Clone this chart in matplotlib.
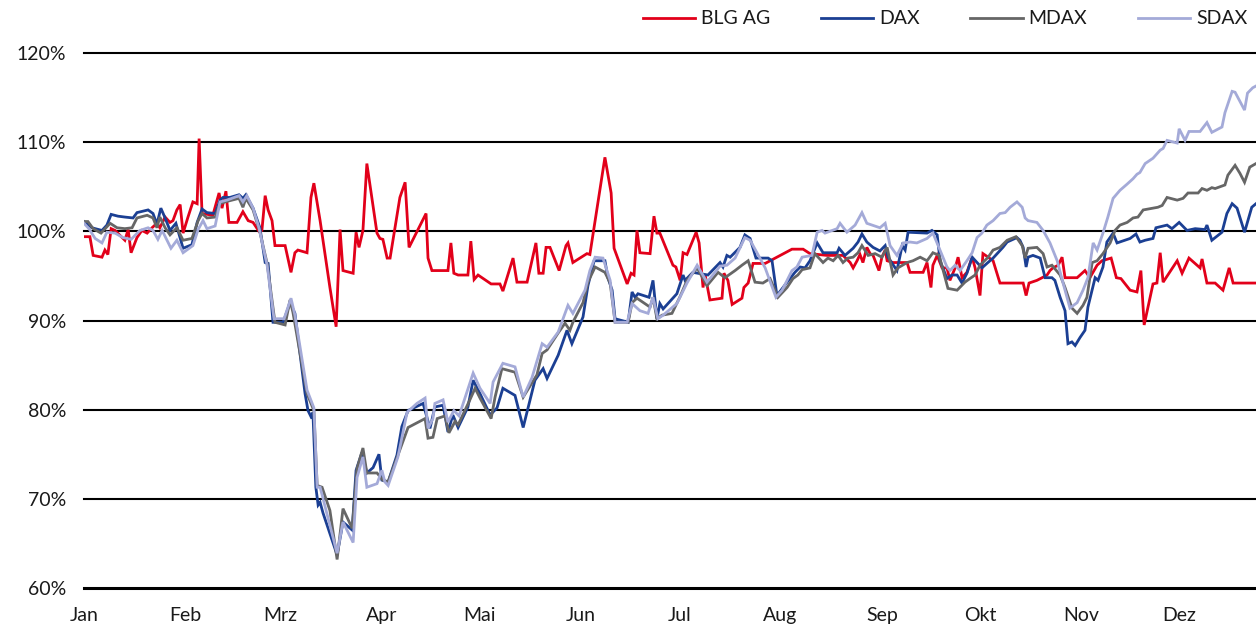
import matplotlib
matplotlib.use("Agg")
import matplotlib.pyplot as plt

# ---- data: (day of year, index value in %) ----
BLG = [(0, 99.4), (1.8, 99.4), (2.8, 97.3), (5.5, 97.1), (6.4, 97.9), (7.3, 97.4), (8.3, 100.3), (9.5, 100.1),
       (12.5, 99.0), (13.5, 100.2), (14.4, 97.6), (16.2, 99.3), (17.7, 100.1), (19.3, 99.8), (20.8, 100.4),
       (22.3, 100.9), (23.2, 100.4), (24.8, 101.6), (26.3, 101.0), (27.2, 101.2), (28.4, 102.4), (29.4, 103.0),
       (30.3, 99.8), (31.8, 101.6), (33.3, 103.3), (34.6, 103.1), (35.2, 110.4), (36.1, 102.0), (39.4, 101.8),
       (41.3, 104.3), (42.2, 102.6), (43.4, 104.5), (44.3, 101.0), (46.8, 101.0), (48.6, 102.2), (50.2, 101.2),
       (51.7, 101.0), (53.5, 100.0), (54.4, 100.1), (55.4, 104.0), (56.3, 102.4), (57.5, 101.2), (58.4, 98.4),
       (61.5, 98.4), (63.3, 95.4), (64.5, 97.6), (65.4, 97.9), (68.2, 97.6), (69.4, 103.8), (70.3, 105.4),
       (72.2, 101.2), (75.2, 93.7), (77.1, 89.3), (78.3, 100.2), (79.2, 95.6), (82.3, 95.3), (83.2, 99.9),
       (84.1, 98.2), (85.3, 100.1), (86.5, 107.6), (89.6, 99.8), (90.5, 99.2), (91.4, 99.1), (92.7, 97.0),
       (93.6, 97.0), (96.6, 103.8), (98.2, 105.5), (99.4, 98.2), (104.6, 102.0), (105.2, 97.0), (106.4, 95.6),
       (111.3, 95.6), (112.2, 98.7), (113.1, 95.3), (114.4, 95.1), (117.4, 95.1), (118.3, 98.9), (119.3, 94.6),
       (120.5, 95.1), (124.5, 94.1), (127.2, 94.1), (128.1, 93.3), (131.2, 97.0), (132.4, 94.3), (135.5, 94.3),
       (138.2, 98.7), (139.1, 95.3), (140.4, 95.3), (141.3, 98.2), (142.5, 98.2), (145.3, 95.6), (147.4, 98.4),
       (148.0, 98.7), (149.5, 96.5), (153.8, 97.5), (154.7, 97.4), (159.3, 108.3), (161.2, 104.3), (162.1, 98.1),
       (166.1, 94.1), (167.3, 95.3), (168.2, 95.1), (169.1, 100.1), (170.0, 97.6), (173.1, 97.5), (174.3, 101.7),
       (175.2, 99.8), (176.1, 99.8), (180.1, 96.2), (181.0, 96.0), (182.3, 94.5), (183.2, 97.6), (184.4, 97.4),
       (187.2, 99.9), (188.1, 98.7), (189.3, 93.7), (189.9, 95.2), (191.4, 92.3), (195.1, 92.5), (195.7, 95.3),
       (196.9, 94.5), (198.2, 91.8), (201.2, 92.5), (201.8, 93.7), (203.1, 94.2), (204.6, 96.4), (208.3, 96.4),
       (211.9, 97.1), (216.5, 98.0), (219.9, 98.0), (222.0, 97.5), (227.2, 97.3), (232.1, 97.3), (234.3, 96.5),
       (235.2, 95.9), (236.4, 96.7), (237.3, 97.4), (238.2, 96.5), (239.4, 98.2), (240.4, 97.5), (241.3, 97.3),
       (243.1, 95.6), (244.0, 97.1), (245.0, 97.9), (245.6, 96.7), (247.4, 96.5), (251.7, 96.5), (252.6, 95.4),
       (256.6, 95.4), (257.8, 96.5), (259.0, 93.7), (259.6, 96.2), (260.9, 97.3), (262.4, 95.9), (263.9, 95.9),
       (264.8, 94.5), (266.4, 95.9), (267.3, 97.1), (268.5, 94.8), (270.0, 95.4), (271.6, 97.1), (272.5, 95.9),
       (274.0, 92.8), (274.9, 97.5), (276.5, 97.1), (278.0, 96.7), (280.1, 94.2), (287.2, 94.2), (288.1, 92.8),
       (289.0, 94.2), (291.4, 94.5), (293.0, 94.8), (294.5, 95.1), (295.4, 95.6), (296.3, 95.9), (297.9, 96.2),
       (299.1, 97.1), (300.0, 94.8), (303.7, 94.8), (306.1, 95.6), (307.6, 94.8), (309.8, 96.2), (311.3, 96.7),
       (314.1, 97.0), (315.7, 94.8), (317.1, 94.7), (319.9, 93.4), (322.0, 93.2), (323.2, 95.6), (324.2, 89.5),
       (326.9, 94.1), (328.1, 94.2), (329.1, 97.6), (330.0, 94.3), (334.3, 96.7), (335.8, 95.3), (337.9, 97.0),
       (341.3, 95.9), (341.9, 96.9), (343.4, 94.2), (345.9, 94.2), (348.3, 93.4), (350.2, 95.9), (351.4, 94.2),
       (358.4, 94.2)]

DAX = [(0, 101.1), (2.4, 100.4), (5.5, 100.1), (7.0, 100.7), (8.3, 101.9), (10.4, 101.7), (12.5, 101.6),
       (15.0, 101.5), (16.2, 102.1), (19.6, 102.4), (21.1, 102.0), (22.3, 100.8), (23.5, 102.6), (24.8, 101.5),
       (26.3, 100.1), (28.1, 100.9), (30.3, 98.1), (33.0, 98.5), (34.6, 101.0), (36.1, 102.5), (37.6, 102.1),
       (40.1, 102.0), (41.6, 103.5), (42.5, 103.8), (44.6, 103.8), (47.4, 104.1), (48.6, 103.7), (49.5, 104.1),
       (51.7, 102.6), (53.8, 100.4), (55.4, 96.5), (56.3, 96.4), (57.8, 89.8), (60.9, 89.8), (63.0, 92.0),
       (64.5, 90.8), (67.6, 81.8), (68.5, 79.9), (69.7, 79.0), (70.0, 79.7), (70.9, 71.3), (71.6, 69.3),
       (72.2, 69.6), (73.1, 68.4), (75.2, 66.1), (77.4, 63.7), (79.2, 67.4), (82.0, 66.5), (83.2, 73.2),
       (85.0, 75.2), (86.5, 72.9), (88.4, 73.5), (90.2, 75.0), (91.1, 72.1), (93.0, 71.9), (95.7, 74.9),
       (97.2, 78.1), (99.1, 79.9), (103.7, 80.7), (105.8, 77.9), (107.3, 80.3), (109.8, 80.5), (111.3, 77.5),
       (112.8, 79.4), (114.4, 78.0), (117.4, 80.3), (119.0, 83.3), (121.1, 81.8), (124.2, 79.4), (126.3, 80.2),
       (128.1, 82.4), (131.8, 81.6), (134.3, 78.0), (137.9, 83.3), (140.4, 84.6), (141.6, 83.5), (145.0, 86.1),
       (147.7, 88.9), (149.2, 87.4), (152.6, 90.4), (154.1, 93.9), (156.0, 96.7), (159.3, 96.7), (160.2, 94.8),
       (161.5, 93.4), (162.4, 90.2), (166.4, 89.8), (167.6, 93.2), (168.5, 92.6), (169.4, 93.0), (172.8, 92.6),
       (174.0, 94.5), (175.2, 90.2), (176.1, 91.9), (177.1, 91.3), (181.3, 93.0), (183.2, 95.1), (183.8, 94.5),
       (186.2, 95.4), (190.8, 95.1), (194.5, 96.5), (195.4, 96.0), (196.6, 97.3), (197.6, 97.1), (200.6, 98.2),
       (202.1, 99.6), (203.7, 99.2), (205.5, 97.0), (209.2, 97.0), (210.4, 96.7), (211.9, 92.8), (215.0, 94.3),
       (217.4, 95.4), (219.0, 96.0), (220.5, 95.9), (222.0, 96.7), (224.2, 98.7), (226.0, 97.6), (230.3, 97.6),
       (230.9, 98.1), (232.7, 97.3), (235.2, 98.1), (236.7, 98.8), (237.9, 99.7), (239.4, 98.8), (241.3, 98.2),
       (243.4, 97.8), (245.0, 98.4), (245.9, 97.1), (248.6, 95.6), (250.2, 98.4), (251.1, 97.9), (252.0, 99.9),
       (257.8, 99.8), (259.3, 100.1), (260.9, 99.6), (261.8, 96.7), (263.9, 94.7), (265.4, 95.1), (267.0, 95.1),
       (268.5, 94.2), (270.0, 95.3), (271.6, 97.1), (273.1, 96.5), (274.6, 95.9), (276.1, 96.4), (278.0, 97.0),
       (279.5, 97.6), (281.0, 98.2), (282.3, 98.8), (284.1, 99.1), (285.3, 99.3), (286.2, 99.0), (287.2, 98.2),
       (288.1, 96.0), (288.7, 97.1), (290.2, 97.3), (292.4, 97.0), (293.9, 94.8), (296.0, 94.8), (296.9, 94.5),
       (298.5, 92.6), (300.0, 91.1), (300.9, 87.4), (302.1, 87.6), (303.1, 87.2), (304.6, 88.1), (306.1, 88.9),
       (307.0, 91.5), (309.2, 94.8), (310.1, 94.5), (311.6, 96.0), (312.8, 98.8), (314.7, 99.8), (315.9, 98.7),
       (319.9, 99.2), (321.7, 99.7), (322.9, 98.8), (324.5, 99.0), (326.9, 99.2), (327.8, 100.4), (331.2, 100.7),
       (332.7, 100.3), (334.9, 101.0), (337.3, 100.1), (339.8, 100.3), (342.8, 100.2), (343.4, 100.7),
       (344.9, 99.0), (348.0, 99.9), (349.5, 102.0), (351.1, 103.1), (352.6, 102.6), (354.9, 99.9),
       (357.1, 102.7), (358.4, 103.1)]

MDAX = [(0, 101.1), (1.2, 101.1), (2.8, 100.3), (5.2, 99.8), (8.0, 100.9), (10.1, 100.4), (12.5, 100.3),
        (14.7, 100.4), (16.2, 101.5), (19.3, 101.8), (21.1, 101.5), (22.3, 100.4), (23.2, 101.6), (24.8, 100.4),
        (26.3, 99.6), (28.4, 100.4), (30.3, 99.0), (33.0, 99.2), (34.9, 101.2), (36.1, 102.0), (37.6, 101.5),
        (40.1, 101.6), (41.6, 103.1), (43.1, 103.3), (47.4, 103.7), (48.6, 102.7), (49.5, 103.7), (51.7, 102.4),
        (53.8, 99.9), (56.0, 96.4), (58.4, 89.8), (61.5, 89.5), (63.0, 92.3), (63.9, 90.9), (68.2, 81.8),
        (70.3, 79.9), (71.3, 71.5), (72.8, 71.3), (75.2, 68.7), (77.4, 63.2), (79.2, 68.9), (82.0, 66.7),
        (83.5, 73.4), (85.3, 75.7), (86.5, 72.9), (89.6, 72.9), (91.4, 72.1), (93.0, 71.9), (96.0, 74.9),
        (98.2, 77.1), (99.1, 78.0), (104.3, 79.0), (105.2, 76.8), (106.7, 76.9), (108.0, 79.0), (110.4, 79.3),
        (111.6, 77.4), (113.5, 78.7), (114.4, 78.3), (118.0, 81.1), (119.6, 82.4), (121.1, 81.3), (124.5, 79.0),
        (125.7, 81.4), (127.8, 84.6), (131.8, 84.2), (134.3, 81.4), (138.5, 83.9), (140.1, 86.3), (141.6, 86.7),
        (145.0, 88.6), (147.1, 89.7), (148.6, 88.9), (149.5, 89.8), (152.6, 92.0), (154.1, 94.3), (156.3, 96.0),
        (159.3, 95.4), (160.9, 94.2), (162.4, 89.8), (166.4, 89.8), (167.6, 92.0), (169.1, 92.5), (173.1, 91.5),
        (174.0, 92.6), (175.2, 90.2), (176.8, 90.6), (179.8, 90.8), (182.3, 92.7), (184.4, 94.5), (187.5, 95.9),
        (190.5, 93.9), (193.9, 95.4), (196.0, 94.8), (199.1, 95.6), (201.2, 96.2), (203.1, 96.7), (205.2, 94.3),
        (207.6, 94.2), (209.8, 94.7), (212.2, 92.6), (215.0, 93.7), (216.8, 94.7), (218.3, 95.1), (219.6, 95.7),
        (222.0, 95.9), (223.5, 97.5), (226.0, 96.5), (227.5, 97.0), (229.1, 96.7), (230.6, 97.3), (232.1, 96.5),
        (233.6, 97.0), (235.2, 97.1), (236.7, 97.6), (237.9, 98.4), (239.8, 97.3), (241.9, 97.5), (244.0, 97.1),
        (245.6, 98.2), (247.4, 95.1), (248.9, 95.9), (251.7, 96.5), (253.5, 96.7), (255.7, 97.1), (257.8, 96.7),
        (259.6, 97.6), (261.5, 97.3), (264.2, 93.6), (267.0, 93.4), (269.4, 94.3), (270.9, 94.7), (272.5, 95.1),
        (274.0, 96.2), (276.5, 97.1), (278.0, 97.9), (280.1, 98.2), (282.3, 99.0), (285.0, 99.4), (286.9, 98.4),
        (287.8, 97.0), (288.7, 98.1), (291.4, 98.2), (293.3, 97.5), (294.5, 96.0), (296.0, 96.2), (298.5, 95.1),
        (300.0, 93.7), (302.1, 91.4), (303.7, 90.8), (305.5, 91.7), (306.7, 92.6), (308.3, 96.5), (309.8, 96.7),
        (311.6, 97.5), (313.8, 98.7), (315.3, 100.1), (316.8, 100.7), (319.0, 101.0), (320.8, 101.5),
        (322.3, 101.6), (323.9, 102.4), (326.9, 102.6), (328.4, 102.7), (329.7, 102.9), (331.2, 103.8),
        (334.3, 103.5), (336.1, 103.7), (337.6, 104.3), (340.7, 104.3), (341.9, 104.8), (343.4, 104.6),
        (344.9, 104.9), (345.9, 104.8), (348.9, 105.2), (349.8, 106.3), (352.0, 107.4), (353.5, 106.5),
        (354.9, 105.5), (356.5, 107.2), (358.4, 107.6)]

SDAX = [(0, 100.9), (1.5, 100.3), (3.4, 99.2), (5.5, 98.7), (7.0, 99.9), (9.5, 99.8), (11.9, 99.3), (14.4, 99.1),
        (17.1, 100.1), (19.6, 100.4), (21.1, 100.1), (22.6, 99.1), (23.9, 100.1), (26.6, 98.1), (28.4, 99.0),
        (30.3, 97.6), (33.3, 98.4), (34.9, 100.2), (36.4, 101.2), (37.6, 100.3), (40.1, 100.6), (41.6, 103.3),
        (43.7, 103.5), (47.4, 104.0), (48.6, 103.3), (49.8, 104.0), (51.7, 102.6), (53.5, 100.4), (56.0, 96.2),
        (58.1, 90.2), (61.2, 90.2), (63.3, 92.5), (64.5, 90.6), (68.2, 82.2), (70.3, 80.2), (71.3, 71.3),
        (72.2, 71.3), (74.6, 67.9), (77.4, 63.9), (79.2, 67.4), (82.3, 65.1), (83.5, 72.4), (85.3, 74.7),
        (86.5, 71.3), (89.6, 71.7), (91.1, 73.2), (92.0, 71.9), (93.0, 71.5), (96.0, 74.7), (98.8, 79.7),
        (101.8, 80.7), (104.3, 81.3), (105.2, 77.9), (106.7, 79.0), (107.3, 80.7), (109.8, 81.1), (111.3, 78.6),
        (113.1, 79.9), (114.7, 79.3), (119.0, 84.1), (121.1, 82.4), (124.2, 80.7), (125.1, 83.1), (128.1, 85.2),
        (131.8, 84.8), (134.3, 81.4), (137.0, 83.6), (140.1, 87.4), (141.6, 87.0), (145.0, 88.7), (148.0, 91.7),
        (149.5, 90.8), (153.2, 93.4), (154.7, 95.6), (156.3, 97.1), (158.7, 97.0), (160.9, 94.5), (162.4, 89.8),
        (166.1, 89.8), (167.6, 91.9), (170.0, 91.1), (172.5, 90.8), (174.0, 92.6), (175.5, 90.2), (177.1, 90.6),
        (181.3, 91.9), (184.4, 94.2), (187.5, 96.2), (190.5, 94.3), (194.5, 96.1), (196.6, 96.2), (199.1, 97.0),
        (202.1, 99.3), (203.7, 99.0), (205.8, 97.6), (208.3, 95.9), (211.6, 92.6), (213.5, 93.4), (215.0, 94.5),
        (216.5, 95.6), (218.0, 96.0), (219.6, 97.1), (222.6, 97.3), (224.2, 99.9), (225.7, 100.1), (226.6, 99.8),
        (230.3, 100.3), (231.2, 100.9), (233.3, 99.9), (235.8, 100.7), (237.9, 102.1), (239.4, 100.9),
        (243.4, 100.4), (245.0, 100.9), (246.5, 98.4), (248.6, 97.3), (250.5, 98.7), (252.6, 98.8), (254.7, 98.7),
        (257.8, 99.2), (259.6, 99.8), (261.2, 98.4), (263.9, 96.0), (264.8, 95.6), (266.4, 96.2), (267.9, 95.6),
        (270.0, 96.7), (271.6, 97.6), (273.1, 99.3), (274.6, 99.8), (276.1, 100.7), (278.0, 101.2),
        (280.1, 102.0), (281.7, 102.1), (283.2, 102.7), (285.3, 103.3), (286.9, 102.7), (287.8, 101.5),
        (288.7, 101.2), (291.4, 101.0), (293.3, 100.1), (295.4, 98.7), (297.6, 96.7), (299.4, 94.2),
        (300.6, 92.6), (301.5, 91.4), (303.7, 92.0), (305.5, 93.4), (307.0, 94.8), (308.6, 98.7), (309.8, 97.9),
        (311.6, 99.8), (313.1, 101.6), (314.7, 103.7), (316.8, 104.6), (319.0, 105.3), (320.8, 105.9),
        (322.0, 106.4), (322.9, 106.6), (324.5, 107.6), (326.9, 108.2), (329.1, 109.1), (330.0, 109.3),
        (331.2, 110.2), (334.3, 109.9), (334.9, 111.5), (336.7, 110.2), (337.9, 111.2), (341.3, 111.2),
        (343.4, 112.2), (344.9, 111.1), (348.0, 111.7), (348.9, 113.3), (351.1, 115.7), (352.0, 115.6),
        (354.9, 113.6), (355.8, 115.5), (357.4, 116.1), (358.4, 116.3)]

SERIES = ["BLG AG", "DAX", "MDAX", "SDAX"]
COLORS = ["#E2001A", "#1B3F93", "#666666", "#A4AAD8"]
MONTHS = ["Jan", "Feb", "Mrz", "Apr", "Mai", "Jun", "Jul", "Aug", "Sep", "Okt", "Nov", "Dez"]
MONTH_START = [0, 31, 60, 91, 121, 152, 182, 213, 244, 274, 305, 335]
Y_TICKS = [60, 70, 80, 90, 100, 110, 120]

plt.rcParams['font.family'] = ['Lato', 'DejaVu Sans']

fig = plt.figure(figsize=(12.56, 6.26), dpi=100)
ax = fig.add_axes([84 / 1256, 1 - 588 / 626, 1 - 84 / 1256, (588 - 53) / 626])

for v in Y_TICKS:
    ax.axhline(v, color="black", lw=2.2 if v == 60 else 1.5, zorder=1, clip_on=False)

for name, data, col in zip(SERIES, [BLG, DAX, MDAX, SDAX], COLORS):
    xs, ys = zip(*data)
    ax.plot(xs, ys, color=col, lw=2.0, label=name, zorder=3, solid_joinstyle="miter")

ax.set_xlim(0, 358.4)
ax.set_ylim(60, 120)
ax.set_xticks(MONTH_START)
ax.set_xticklabels(MONTHS)
ax.set_yticks(Y_TICKS)
ax.set_yticklabels([f"{v}%" for v in Y_TICKS])
ax.tick_params(axis="both", length=0, labelsize=14, colors="#1a1a1a")
ax.tick_params(axis="y", pad=13)
ax.tick_params(axis="x", pad=14)
for s in ax.spines.values():
    s.set_visible(False)

leg = fig.legend(loc="upper right", bbox_to_anchor=(1.004, 1.005), ncol=4, frameon=False,
                 fontsize=14, handlelength=2.7, handletextpad=0.3, columnspacing=2.6,
                 borderaxespad=0.3)
for t in leg.get_texts():
    t.set_color("#1a1a1a")

fig.savefig("out.png", dpi=100)
